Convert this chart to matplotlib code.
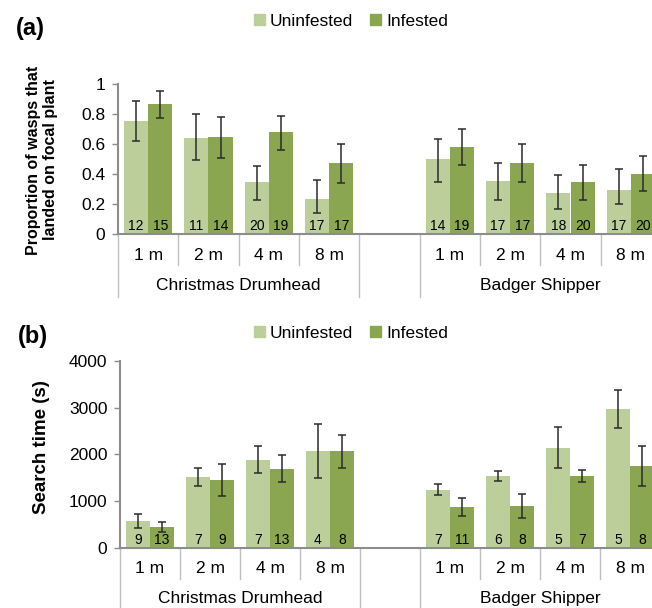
import matplotlib
matplotlib.use("Agg")
import matplotlib.pyplot as plt
from matplotlib.patches import Patch
from matplotlib.ticker import FuncFormatter
from matplotlib.transforms import blended_transform_factory

plt.rcParams['font.family'] = ['Liberation Sans', 'DejaVu Sans']

distances = ['1 m', '2 m', '4 m', '8 m']
cultivars = ['Christmas Drumhead', 'Badger Shipper']
series = ['Uninfested', 'Infested']

# (a) proportion of wasps landing: 4 distances for Christmas Drumhead, then 4 for Badger Shipper
land_unin = [0.75, 0.637, 0.347, 0.232, 0.498, 0.352, 0.277, 0.292]
land_unin_lo = [0.617, 0.491, 0.226, 0.144, 0.347, 0.228, 0.170, 0.200]
land_unin_hi = [0.883, 0.796, 0.454, 0.363, 0.635, 0.473, 0.396, 0.434]
land_inf = [0.865, 0.644, 0.681, 0.471, 0.577, 0.471, 0.347, 0.398]
land_inf_lo = [0.770, 0.509, 0.562, 0.343, 0.460, 0.345, 0.230, 0.285]
land_inf_hi = [0.954, 0.779, 0.788, 0.602, 0.701, 0.602, 0.458, 0.518]
land_n_unin = [12, 11, 20, 17, 14, 17, 18, 17]
land_n_inf = [15, 14, 19, 17, 19, 17, 20, 20]

# (b) search time (s)
search_unin = [579, 1507, 1879, 2064, 1236, 1536, 2136, 2971]
search_unin_lo = [429, 1314, 1607, 1486, 1121, 1421, 1714, 2557]
search_unin_hi = [729, 1700, 2171, 2650, 1364, 1643, 2579, 3386]
search_inf = [443, 1450, 1686, 2064, 871, 893, 1536, 1750]
search_inf_lo = [329, 1114, 1407, 1714, 679, 629, 1407, 1329]
search_inf_hi = [550, 1793, 1979, 2407, 1064, 1150, 1671, 2186]
search_n_unin = [9, 7, 7, 4, 7, 6, 5, 5]
search_n_inf = [13, 9, 13, 8, 11, 8, 7, 8]

LIGHT = '#bccf9b'
DARK = '#8aa650'
SPINE = '#8c8c8c'
SEP = '#c0c0c0'

fig = plt.figure(figsize=(6.52, 6.08), dpi=100)
ax_a = fig.add_axes([118 / 652, 1 - 234.3 / 608, 543 / 652, 150.6 / 608])
ax_b = fig.add_axes([120 / 652, 1 - 547.7 / 608, 540 / 652, 186.7 / 608])


def panel(ax, unin, ulo, uhi, inf, ilo, ihi, nu, ni, ymax, ystep, long_px):
    xs = [0, 1, 2, 3, 5, 6, 7, 8]  # slot 4 left empty between cultivars
    w = 0.4
    xu = [x - w / 2 for x in xs]
    xi = [x + w / 2 for x in xs]
    ax.bar(xu, unin, w, color=LIGHT, zorder=2)
    ax.bar(xi, inf, w, color=DARK, zorder=2)
    eb = dict(fmt='none', ecolor='#2b2b2b', elinewidth=1.1, capsize=3, capthick=1.1, zorder=3)
    ax.errorbar(xu, unin, yerr=[[v - l for v, l in zip(unin, ulo)],
                                [h - v for v, h in zip(unin, uhi)]], **eb)
    ax.errorbar(xi, inf, yerr=[[v - l for v, l in zip(inf, ilo)],
                               [h - v for v, h in zip(inf, ihi)]], **eb)
    for x, n in zip(xu, nu):
        ax.annotate(str(n), (x, 0), xytext=(0, 1), textcoords='offset pixels',
                    ha='center', va='bottom', fontsize=10, zorder=4)
    for x, n in zip(xi, ni):
        ax.annotate(str(n), (x, 0), xytext=(0, 1), textcoords='offset pixels',
                    ha='center', va='bottom', fontsize=10, zorder=4)

    ax.set_xlim(-0.5, 8.5)
    ax.set_ylim(0, ymax)
    ax.set_yticks([ystep * k for k in range(int(round(ymax / ystep)) + 1)])
    ax.yaxis.set_major_formatter(FuncFormatter(lambda v, p: '{:g}'.format(round(v, 3))))
    ax.set_xticks([])
    ax.tick_params(axis='y', direction='out', length=4, width=1, color=SPINE,
                   labelsize=12.5, pad=5)
    for s in ['top', 'right']:
        ax.spines[s].set_visible(False)
    for s in ['left', 'bottom']:
        ax.spines[s].set_color(SPINE)
        ax.spines[s].set_linewidth(1.5)
        ax.spines[s].set_zorder(5)

    # multi-level category axis drawn below the plot
    h_px = ax.get_position().height * fig.get_figheight() * fig.dpi
    tr = blended_transform_factory(ax.transData, ax.transAxes)
    for x in [0.5, 1.5, 2.5, 5.5, 6.5, 7.5]:
        ax.plot([x, x], [0, -31 / h_px], color=SEP, lw=1, transform=tr, clip_on=False)
    for x in [-0.5, 3.5, 4.5, 8.5]:
        ax.plot([x, x], [0, -long_px / h_px], color=SEP, lw=1, transform=tr, clip_on=False)
    for x, lab in zip(xs, distances * 2):
        ax.text(x, -21 / h_px, lab, transform=tr, ha='center', va='center', fontsize=12.5)
    for x, lab in zip([1.5, 6.5], cultivars):
        ax.text(x, -51 / h_px, lab, transform=tr, ha='center', va='center', fontsize=12.5)


panel(ax_a, land_unin, land_unin_lo, land_unin_hi, land_inf, land_inf_lo, land_inf_hi,
      land_n_unin, land_n_inf, 1.0, 0.2, 63)
panel(ax_b, search_unin, search_unin_lo, search_unin_hi, search_inf, search_inf_lo,
      search_inf_hi, search_n_unin, search_n_inf, 4000, 1000, 70)

handles = [Patch(color=LIGHT), Patch(color=DARK)]
for yc in [21, 333]:
    fig.legend(handles, series, loc='center', bbox_to_anchor=(351 / 652, 1 - yc / 608),
               ncol=2, frameon=False, handlelength=0.6, handleheight=0.6,
               handletextpad=0.3, columnspacing=1.0, fontsize=12.5, borderpad=0)

fig.text(42 / 652, 1 - 160 / 608, 'Proportion of wasps that\nlanded on focal plant',
         rotation=90, ha='center', va='center', fontsize=11.5, fontweight='bold',
         multialignment='center', linespacing=1.2)
fig.text(41 / 652, 1 - 447 / 608, 'Search time (s)', rotation=90, ha='center',
         va='center', fontsize=13.5, fontweight='bold')
fig.text(30 / 652, 1 - 29 / 608, '(a)', ha='center', va='center', fontsize=17,
         fontweight='bold')
fig.text(33 / 652, 1 - 337 / 608, '(b)', ha='center', va='center', fontsize=17,
         fontweight='bold')

fig.savefig('out.png', dpi=100)
